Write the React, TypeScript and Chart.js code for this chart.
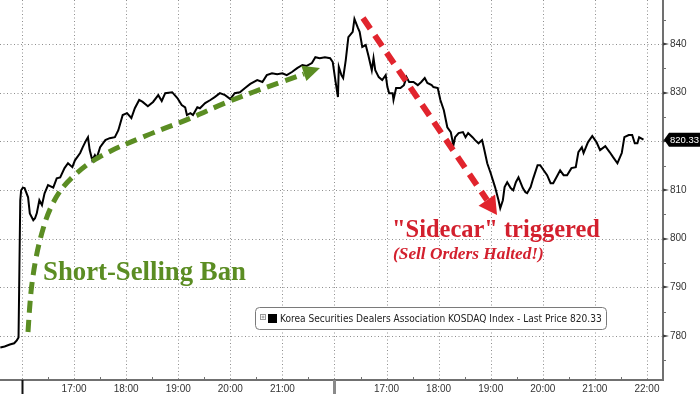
import { useEffect, useRef } from "react";
import { Chart, registerables } from "chart.js";

Chart.register(...registerables);

// ---- DATA ----
// minutes relative to 16:00 of each session
const day1Minutes = [-25, -20, -14, -9, -6, -4, -2, -1, 1, 3, 7, 9, 13, 15, 17, 20, 23, 26, 30, 36, 40, 44, 49, 53, 58, 61, 67, 70, 74, 76, 78, 81, 84, 86, 90, 96, 101, 107, 111, 116, 121, 126, 130, 135, 139, 145, 151, 157, 161, 165, 173, 179, 184, 188, 190, 194, 197, 202, 205, 211, 217, 222, 228, 234, 240, 245, 251, 257, 263, 271, 277, 282, 288, 294, 300, 305, 311, 317, 323, 328, 334, 338, 343, 349, 355, 358];
const day1Values = [777.65, 777.85, 778.25, 778.5, 779.1, 779.7, 807.9, 809.95, 810.5, 810.4, 808.5, 805.2, 803.8, 804.2, 805.2, 807.9, 806.9, 809.3, 811.0, 810.5, 812.4, 812.6, 814.5, 815.5, 814.7, 816.1, 817.6, 818.8, 820.25, 820.85, 818.2, 816.1, 817.15, 816.5, 818.8, 820.25, 820.65, 820.85, 822.3, 825.4, 825.8, 824.8, 826.8, 828.5, 828.1, 827.2, 828.1, 829.5, 828.3, 829.9, 830.1, 828.9, 827.45, 827.0, 825.4, 825.8, 825.4, 827.0, 826.8, 827.85, 828.5, 829.1, 829.9, 829.5, 828.7, 829.9, 830.1, 830.95, 831.8, 832.6, 832.2, 833.6, 834.0, 833.8, 834.0, 833.6, 834.25, 835.05, 835.7, 835.5, 836.1, 837.3, 837.1, 837.3, 837.1, 836.3];
const day2Minutes = [1, 4, 5, 8, 10, 13, 16, 21, 23, 27, 29, 32, 36, 39, 43, 45, 47, 51, 55, 59, 61, 63, 67, 68, 71, 76, 80, 83, 86, 91, 96, 100, 104, 107, 112, 114, 119, 122, 126, 130, 134, 137, 139, 143, 148, 151, 154, 159, 162, 166, 170, 172, 176, 180, 185, 189, 191, 194, 196, 199, 203, 206, 209, 212, 217, 220, 222, 226, 229, 234, 237, 241, 245, 249, 252, 257, 260, 264, 268, 273, 278, 281, 285, 287, 292, 297, 302, 306, 312, 317, 321, 326, 331, 334, 339, 343, 346, 349, 351, 356];
const day2Values = [832.6, 829.1, 835.3, 833.6, 833.0, 836.7, 841.4, 842.5, 845.15, 843.3, 842.5, 839.4, 839.8, 837.7, 834.6, 837.1, 834.6, 833.2, 832.6, 833.6, 831.15, 829.9, 829.9, 828.5, 830.95, 830.95, 831.55, 833.2, 832.2, 832.2, 831.55, 832.2, 833.0, 832.0, 831.55, 831.15, 830.95, 828.5, 826.4, 822.9, 821.9, 819.2, 820.85, 821.7, 821.9, 820.85, 821.7, 820.85, 820.25, 819.6, 820.25, 818.8, 815.5, 813.45, 810.6, 807.9, 806.25, 807.9, 810.6, 811.6, 810.4, 809.95, 811.6, 812.6, 810.4, 809.55, 809.35, 810.6, 812.4, 815.1, 815.1, 814.05, 813.05, 811.4, 811.4, 813.05, 814.05, 813.05, 813.05, 814.5, 814.7, 817.8, 818.8, 817.6, 819.8, 821.1, 819.8, 818.2, 819.0, 817.8, 816.75, 815.5, 817.6, 820.85, 821.3, 821.3, 819.6, 819.6, 820.85, 820.33];

const sessionMinutes = 360; // 16:00 -> 22:00 per session panel
const hourTicks = [0, 60, 120, 180, 240, 300, 360, 420, 480, 540, 600, 660, 720];
const hourLabels = ["", "17:00", "18:00", "19:00", "20:00", "21:00", "", "17:00", "18:00", "19:00", "20:00", "21:00", "22:00"];
const halfHourTicks = [30, 90, 150, 210, 270, 330, 390, 450, 510, 570, 630, 690];
const sessionStarts = [0, 360];
const yTicks = [780, 790, 800, 810, 820, 830, 840];
const yLabels = ["780", "790", "800", "810", "", "830", "840"];
const yMinorTicks = [775, 785, 795, 805, 815, 825, 835, 845];
const xMin = -25.35;
const xMax = 738.5;
const yMin = 770.95;
const yMax = 849.05;
const lastPrice = 820.33;
const seriesName = "Korea Securities Dealers Association KOSDAQ Index - Last Price";

const GREEN = "#5b8d23";
const RED = "#e1242d";
const TEXT_RED = "#d3202e";
const SANS = "'Liberation Sans', Arial, sans-serif";
const LEGEND_FONT = "'DejaVu Sans Condensed', 'Liberation Sans Narrow', 'Liberation Sans', sans-serif";

function fitFont(ctx: CanvasRenderingContext2D, text: string, style: string, family: string, target: number) {
  ctx.font = `${style} 20px ${family}`;
  const w = ctx.measureText(text).width;
  const size = (20 * target) / w;
  return `${style} ${size.toFixed(2)}px ${family}`;
}

function smoothPath(ctx: CanvasRenderingContext2D, pts: number[][]) {
  ctx.beginPath();
  ctx.moveTo(pts[0][0], pts[0][1]);
  for (let i = 1; i < pts.length - 1; i++) {
    const mx = (pts[i][0] + pts[i + 1][0]) / 2;
    const my = (pts[i][1] + pts[i + 1][1]) / 2;
    ctx.quadraticCurveTo(pts[i][0], pts[i][1], mx, my);
  }
  const l = pts[pts.length - 1];
  ctx.lineTo(l[0], l[1]);
}

function arrowHead(ctx: CanvasRenderingContext2D, tip: number[], dir: number[], len: number, half: number, color: string) {
  const n = Math.hypot(dir[0], dir[1]);
  const dx = dir[0] / n, dy = dir[1] / n;
  const bx = tip[0] - dx * len, by = tip[1] - dy * len;
  ctx.beginPath();
  ctx.moveTo(tip[0], tip[1]);
  ctx.lineTo(bx - dy * half, by + dx * half);
  ctx.lineTo(bx + dy * half, by - dx * half);
  ctx.closePath();
  ctx.fillStyle = color;
  ctx.fill();
}

const decorPlugin = {
  id: "decor",
  beforeDatasetsDraw(chart: any) {
    const { ctx, chartArea: a, scales } = chart;
    const xs = scales.x, ys = scales.y;
    ctx.save();
    // dotted grid
    ctx.strokeStyle = "#8e8e8e";
    ctx.lineWidth = 1;
    ctx.setLineDash([1, 2.5]);
    yTicks.forEach((v) => {
      const y = Math.round(ys.getPixelForValue(v)) + 0.5;
      ctx.beginPath();
      ctx.moveTo(a.left, y);
      ctx.lineTo(a.right, y);
      ctx.stroke();
    });
    hourTicks.forEach((v) => {
      const x = Math.round(xs.getPixelForValue(v)) + 0.5;
      ctx.beginPath();
      ctx.moveTo(x, a.top);
      ctx.lineTo(x, a.bottom);
      ctx.stroke();
    });
    ctx.setLineDash([]);
    // axis lines
    ctx.strokeStyle = "#707070";
    ctx.lineWidth = 2;
    ctx.beginPath();
    ctx.moveTo(a.left, a.bottom);
    ctx.lineTo(a.right, a.bottom);
    ctx.moveTo(a.right, a.top);
    ctx.lineTo(a.right, a.bottom + 1);
    ctx.stroke();
    // x minor ticks
    ctx.lineWidth = 1;
    ctx.strokeStyle = "#707070";
    halfHourTicks.forEach((v) => {
      const x = Math.round(xs.getPixelForValue(v)) + 0.5;
      ctx.beginPath();
      ctx.moveTo(x, a.bottom - 3);
      ctx.lineTo(x, a.bottom);
      ctx.stroke();
    });
    // session markers below axis
    sessionStarts.forEach((v, i) => {
      const x = Math.round(xs.getPixelForValue(v)) + 0.5;
      ctx.strokeStyle = i === 0 ? "#111" : "#8a8a8a";
      ctx.lineWidth = i === 0 ? 2 : 3;
      ctx.beginPath();
      ctx.moveTo(x, a.bottom);
      ctx.lineTo(x, chart.height);
      ctx.stroke();
    });
    // y ticks
    yTicks.forEach((v) => {
      const y = Math.round(ys.getPixelForValue(v));
      ctx.beginPath();
      ctx.moveTo(a.right, y - 1.5);
      ctx.lineTo(a.right + 6, y);
      ctx.lineTo(a.right, y + 1.5);
      ctx.closePath();
      ctx.fillStyle = "#404040";
      ctx.fill();
    });
    ctx.lineWidth = 1;
    ctx.strokeStyle = "#707070";
    yMinorTicks.forEach((v) => {
      const y = Math.round(ys.getPixelForValue(v)) + 0.5;
      ctx.beginPath();
      ctx.moveTo(a.right, y);
      ctx.lineTo(a.right + 3, y);
      ctx.stroke();
    });
    ctx.restore();
  },
  afterDatasetsDraw(chart: any) {
    const { ctx, chartArea: a, scales } = chart;
    const ys = scales.y;
    ctx.save();

    // green curved arrow
    const gPts = [[28, 332], [30, 300], [33, 275], [37, 252], [42, 232], [48, 213], [57, 195], [67, 182], [87, 164], [110, 151], [133, 141], [160, 130], [187, 120], [213, 108], [240, 97], [267, 87], [293, 78], [304, 74]];
    ctx.strokeStyle = GREEN;
    ctx.lineWidth = 5;
    ctx.setLineDash([12, 7]);
    smoothPath(ctx, gPts);
    ctx.stroke();
    ctx.setLineDash([]);
    arrowHead(ctx, [320, 68], [15, -5], 17, 8, GREEN);

    // red dashed arrow
    ctx.strokeStyle = RED;
    ctx.lineWidth = 6;
    ctx.setLineDash([13, 8]);
    ctx.beginPath();
    ctx.moveTo(363, 18);
    ctx.lineTo(487, 200);
    ctx.stroke();
    ctx.setLineDash([]);
    arrowHead(ctx, [497, 215], [134, 196], 18, 10, RED);

    // texts
    ctx.textBaseline = "alphabetic";
    ctx.textAlign = "left";
    const serif = "'Liberation Serif', 'DejaVu Serif', serif";
    ctx.fillStyle = GREEN;
    ctx.font = fitFont(ctx, "Short-Selling Ban", "bold", serif, 203);
    ctx.fillText("Short-Selling Ban", 43, 280);
    ctx.fillStyle = TEXT_RED;
    ctx.font = fitFont(ctx, "\"Sidecar\" triggered", "bold", serif, 208);
    ctx.fillText("\"Sidecar\" triggered", 392, 237);
    ctx.font = fitFont(ctx, "(Sell Orders Halted!)", "italic bold", serif, 151);
    ctx.fillText("(Sell Orders Halted!)", 393, 259);

    // legend box
    const bx = 255, by = 307, bw = 351, bh = 22;
    ctx.beginPath();
    ctx.roundRect(bx + 0.5, by + 0.5, bw, bh, 4);
    ctx.fillStyle = "#ffffff";
    ctx.fill();
    ctx.strokeStyle = "#7a7a7a";
    ctx.lineWidth = 1;
    ctx.stroke();
    // small expand icon
    ctx.strokeStyle = "#9a9a9a";
    ctx.strokeRect(260.5, 314.5, 5, 5);
    ctx.beginPath();
    ctx.moveTo(261.5, 317); ctx.lineTo(264.5, 317);
    ctx.moveTo(263, 315.5); ctx.lineTo(263, 318.5);
    ctx.stroke();
    ctx.fillStyle = "#000";
    ctx.fillRect(268, 314, 9, 9);
    const legendText = `${seriesName} ${lastPrice.toFixed(2)}`;
    ctx.fillStyle = "#222";
    ctx.textBaseline = "middle";
    ctx.font = fitFont(ctx, legendText, "", LEGEND_FONT, 322);
    ctx.fillText(legendText, 280, 319);

    // last price tag
    const py = ys.getPixelForValue(lastPrice);
    ctx.fillStyle = "#000";
    ctx.beginPath();
    ctx.moveTo(a.right + 1, py);
    ctx.lineTo(a.right + 6, py - 7);
    ctx.lineTo(chart.width, py - 7);
    ctx.lineTo(chart.width, py + 7);
    ctx.lineTo(a.right + 6, py + 7);
    ctx.closePath();
    ctx.fill();
    ctx.fillStyle = "#fff";
    ctx.font = fitFont(ctx, lastPrice.toFixed(2), "", SANS, 29);
    ctx.textBaseline = "middle";
    ctx.fillText(lastPrice.toFixed(2), a.right + 7, py + 0.5);
    ctx.restore();
  },
};

export default function App() {
  const ref = useRef<HTMLCanvasElement | null>(null);
  useEffect(() => {
    if (!ref.current) return;
    const points = [
      ...day1Minutes.map((m, i) => ({ x: m, y: day1Values[i] })),
      ...day2Minutes.map((m, i) => ({ x: sessionMinutes + m, y: day2Values[i] })),
    ];
    const chart = new Chart(ref.current, {
      type: "line",
      data: {
        datasets: [
          {
            label: seriesName,
            data: points,
            borderColor: "#000",
            borderWidth: 2,
            pointRadius: 0,
            tension: 0,
            fill: false,
          },
        ],
      },
      options: {
        responsive: false,
        animation: false,
        layout: { padding: 0 },
        plugins: { legend: { display: false }, tooltip: { enabled: false } },
        scales: {
          x: {
            type: "linear",
            min: xMin,
            max: xMax,
            position: "bottom",
            grid: { display: false, drawTicks: false, tickLength: 0 },
            border: { display: false },
            afterBuildTicks: (s: any) => {
              s.ticks = hourTicks.map((v) => ({ value: v }));
            },
            afterFit: (s: any) => {
              s.height = 14;
              s.paddingLeft = 0;
              s.paddingRight = 0;
            },
            ticks: {
              autoSkip: false,
              maxRotation: 0,
              padding: 3,
              color: "#333",
              font: { family: SANS, size: 10 },
              callback: (v: any) => {
                const i = hourTicks.indexOf(Number(v));
                return i >= 0 ? hourLabels[i] : "";
              },
            },
          },
          y: {
            type: "linear",
            position: "right",
            min: yMin,
            max: yMax,
            grid: { display: false, drawTicks: false, tickLength: 0 },
            border: { display: false },
            afterBuildTicks: (s: any) => {
              s.ticks = yTicks.map((v) => ({ value: v }));
            },
            afterFit: (s: any) => {
              s.width = 37;
              s.paddingTop = 0;
              s.paddingBottom = 0;
            },
            ticks: {
              padding: 7,
              color: "#333",
              font: { family: SANS, size: 10 },
              callback: (v: any) => {
                const i = yTicks.indexOf(Number(v));
                return i >= 0 ? yLabels[i] : "";
              },
            },
          },
        },
      },
      plugins: [decorPlugin],
    });
    return () => chart.destroy();
  }, []);
  return (
    <div style={{ position: "fixed", left: 0, top: 0, width: 700, height: 394, background: "#fff" }}>
      <canvas ref={ref} width={700} height={394} style={{ width: 700, height: 394, display: "block" }} />
    </div>
  );
}
